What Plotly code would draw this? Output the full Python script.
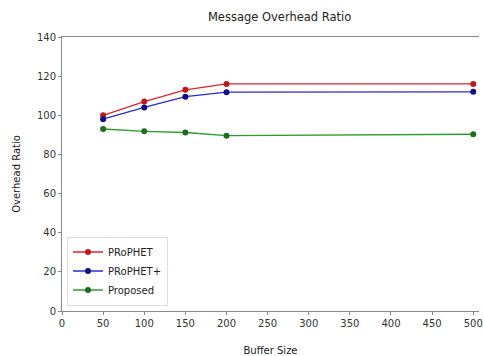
import plotly.graph_objects as go

buffer_size = [50, 100, 150, 200, 500]
prophet = [100, 107, 113, 116, 116]
prophet_plus = [98, 104, 109.5, 111.8, 112]
proposed = [93, 91.8, 91.2, 89.6, 90.3]

series = [
    ("PRoPHET", prophet, "#d8262a", "#c0171c"),
    ("PRoPHET+", prophet_plus, "#2a2ad0", "#101080"),
    ("Proposed", proposed, "#2f9a2f", "#1d6d1d"),
]

fig = go.Figure()
for name, vals, lc, mc in series:
    fig.add_trace(go.Scatter(
        x=buffer_size, y=vals, name=name, mode="lines+markers",
        line=dict(color=lc, width=1.3),
        marker=dict(color=mc, size=6),
        cliponaxis=False,
    ))

axis_common = dict(
    showgrid=False, zeroline=False, showline=True, linecolor="#888888", linewidth=1,
    ticks="outside", ticklen=3, tickcolor="#888888",
    tickfont=dict(family="DejaVu Sans", size=10, color="#333333"),
    ticklabeloverflow="allow",
)

fig.update_layout(
    width=483, height=356,
    margin=dict(l=62, r=0, t=37, b=37, pad=0),
    paper_bgcolor="white", plot_bgcolor="white",
    title=dict(text="Message Overhead Ratio", x=0.579, xanchor="center", y=0.952, yanchor="middle",
               font=dict(family="DejaVu Sans", size=11.5, color="#222222")),
    xaxis=dict(range=[0, 507], tickvals=list(range(0, 501, 50)), mirror=True,
               title=dict(text="Buffer Size", standoff=20,
                          font=dict(family="DejaVu Sans", size=10, color="#222222")),
               **axis_common),
    yaxis=dict(range=[0, 140], tickvals=list(range(0, 141, 20)), mirror=False,
               title=dict(text="Overhead Ratio", standoff=14,
                          font=dict(family="DejaVu Sans", size=10, color="#222222")),
               **axis_common),
    legend=dict(x=0.012, y=0.02, xanchor="left", yanchor="bottom",
                bgcolor="rgba(255,255,255,0.8)", bordercolor="#dddddd", borderwidth=1,
                font=dict(family="DejaVu Sans", size=10, color="#222222"),
                itemwidth=30, tracegroupgap=0),
    showlegend=True,
)

fig.write_html("out.html")
